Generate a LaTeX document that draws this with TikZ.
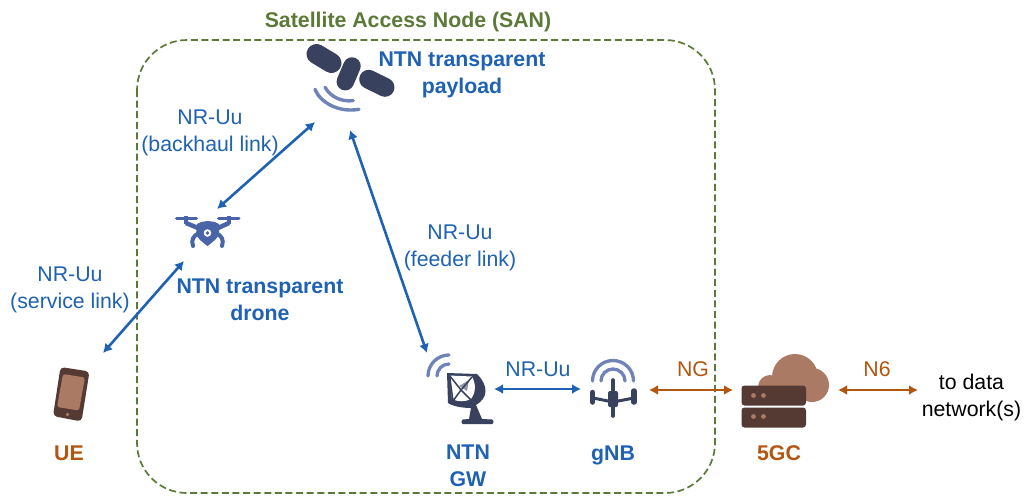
\documentclass[tikz,border=0pt]{standalone}
\usepackage{fontspec}
\setmainfont{Liberation Sans}
\usetikzlibrary{arrows.meta}
\definecolor{san}{HTML}{5B7A37}
\definecolor{ntn}{HTML}{1F62B4}
\definecolor{brn}{HTML}{B3560F}
\definecolor{navy}{HTML}{38415E}
\definecolor{wave}{HTML}{6F83B8}
\definecolor{drn}{HTML}{4A64A8}
\definecolor{srv}{HTML}{553A33}
\definecolor{cld}{HTML}{AB7A65}
\tikzset{
  lbl/.style={font=\fontsize{21.3}{27}\selectfont,text=ntn,inner sep=0pt,align=center},
  blbl/.style={font=\fontsize{21.3}{27}\selectfont\bfseries,text=ntn,inner sep=0pt,align=center},
  olbl/.style={font=\fontsize{21.3}{27}\selectfont\bfseries,text=brn,inner sep=0pt,align=center},
  nlbl/.style={font=\fontsize{21.3}{27}\selectfont,text=brn,inner sep=0pt},
  klbl/.style={font=\fontsize{21.3}{27}\selectfont,text=black,inner sep=0pt,align=center},
  link/.style={{Latex[length=9pt,width=10pt]}-{Latex[length=9pt,width=10pt]},line width=2.6pt,ntn},
  nlink/.style={link,brn},
  wv/.style={wave,line width=3.4pt,line cap=round},
}
\begin{document}
\begin{tikzpicture}[x=1pt,y=-1pt]
\useasboundingbox (0,0) rectangle (1026,496);
\fill[white] (0,0) rectangle (1026,496);
% SAN box
\draw[san,line width=1.7pt,dash pattern=on 7pt off 3.6pt,rounded corners=50pt] (137,40) rectangle (715,493);
\node[font=\fontsize{21.3}{27}\selectfont\bfseries,text=san,inner sep=0pt] (title) at (408,21.5) {Satellite Access Node (SAN)};
% satellite
\draw[navy,line width=20pt,line cap=round] (316.5,54) -- (331.5,63);
\draw[navy,line width=17.5pt,line cap=round] (352,66) -- (345.3,81.7);
\draw[navy,line width=19pt,line cap=round] (368.7,79.3) -- (385,87.3);
\draw[wv] (315,89.3) .. controls (320,102) and (338,113) .. (359,109.3);
\draw[wv] (325,87.3) .. controls (330,96) and (340,102) .. (353.3,100.7);
% drone
\begin{scope}[drn]
\draw[line width=3pt,line cap=round] (176.5,218) -- (196.5,218) (218.5,218) -- (239,218);
\draw[line width=3.6pt] (186,216) -- (186,224) (229,216) -- (229,224);
\draw[line width=4.5pt,line join=round] (186,223) -- (198,228) -- (218,228) -- (229,223);
\fill (197,224) .. controls (204,220) and (212,220) .. (219,224) -- (219,235) .. controls (215,241) and (210,244) .. (207.5,246) .. controls (205,244) and (200,241) .. (196,235) -- cycle;
\draw[line width=4pt,line cap=round] (199,233) .. controls (193,236) and (191,240) .. (193,246);
\draw[line width=4pt,line cap=round] (216,233) .. controls (222,236) and (224,240) .. (222,246);
\fill[white] (207.5,233) circle (3.8);
\fill (207.5,233) circle (1.9);
\end{scope}
% GW
\draw[wv,line width=3.3pt] (449,355) arc (-90:-180:21);
\draw[wv,line width=3.3pt] (449,364) arc (-90:-180:12);
\fill[navy] (447,373) -- (477,374) .. controls (489,386) and (488,398) .. (476,405) -- (482,419) -- (492,419.5) .. controls (494,420) and (494,424) .. (492,424) -- (463,424) .. controls (461,424) and (461,420) .. (463,419.5) -- (469,419) -- (471,408) .. controls (462,408) and (452,406) .. (448,403) -- cycle;
\fill[white] (449.5,375.5) -- (472,376.5) .. controls (476,384) and (476,392) .. (471,399) .. controls (465,402) and (458,402) .. (452,399) -- cycle;
\fill[navy!55!white] (459,386) -- (469,380) -- (467,391) -- cycle;
\draw[navy,line width=1.5pt] (449.5,375.5) -- (461,390) -- (472,377) (461,390) -- (453,401) (461,390) -- (471,400) (449.5,375.5) -- (453,401);
% gNB
\draw[wv,line width=3.3pt] (592.5,381) arc (180:360:20.5);
\draw[wv,line width=3.3pt] (601,381) arc (180:360:12);
\draw[navy,line width=3.6pt,line cap=round] (613,380) -- (613,416);
\draw[navy,line width=3pt] (593,398) -- (613,402) -- (634,398);
\fill[navy,rounded corners=2pt] (608,391) rectangle (618,407);
\draw[navy,line width=5.5pt,line cap=round] (592.5,392.5) -- (592.5,402);
\draw[navy,line width=5.5pt,line cap=round] (634,391) -- (634,402);
% 5GC
\fill[cld] (795,377) circle (23);
\fill[cld] (812,385) circle (17);
\fill[cld] (770,387) circle (12);
\fill[cld] (780,372) rectangle (812,400);
\fill[srv,rounded corners=3pt] (741.5,385.5) rectangle (806,405.5);
\fill[srv,rounded corners=3pt] (741.5,407.5) rectangle (806,427.5);
\foreach \p in {(753.5,395.5),(763.5,395.5),(753.5,416.5),(763.5,416.5)} \fill[cld] \p circle (2.4);
% phone
\fill[srv,rounded corners=4pt] (60.5,367) -- (89.5,371.5) -- (81.5,421.5) -- (53,416) -- cycle;
\fill[cld,rounded corners=2.5pt] (63,374) -- (85,377.5) -- (79,410.5) -- (57,407) -- cycle;
\fill[cld] (67.5,414.5) circle (1.8);
% link end points
\coordinate (b1) at (315,122); \coordinate (b2) at (217,209);
\coordinate (s1) at (184,261); \coordinate (s2) at (103,353);
\coordinate (f1) at (350,130); \coordinate (f2) at (427,353);
\coordinate (u1) at (494,389); \coordinate (u2) at (581,389);
\coordinate (g1) at (649,390); \coordinate (g2) at (733,390);
\coordinate (n1) at (838,390); \coordinate (n2) at (918,390);
\draw[link] (b1) -- (b2);
\draw[link] (s1) -- (s2);
\draw[link] (f1) -- (f2);
\draw[link] (u1) -- (u2);
\draw[nlink] (g1) -- (g2);
\draw[nlink] (n1) -- (n2);
% labels
\node[blbl] (tp) at (462,74.5) {NTN transparent\\payload};
\node[lbl] (bh) at (210,132.5) {NR-Uu\\(backhaul link)};
\node[lbl] (fl) at (460,247.5) {NR-Uu\\(feeder link)};
\node[lbl] (sl) at (70,289.5) {NR-Uu\\(service link)};
\node[blbl] (td) at (260,299.5) {NTN transparent\\drone};
\node[lbl] (uu) at (538,369) {NR-Uu};
\node[nlbl] (ng) at (693,369) {NG};
\node[nlbl] (n6) at (877,369) {N6};
\node[klbl] (dn) at (971.5,397.5) {to data\\network(s)};
\node[blbl] (gw) at (468,465.5) {NTN\\GW};
\node[blbl] (gnb) at (613,455) {gNB};
\node[olbl] (ue) at (69,453) {UE};
\node[olbl] (cgc) at (779,453) {5GC};
\end{tikzpicture}
\end{document}
